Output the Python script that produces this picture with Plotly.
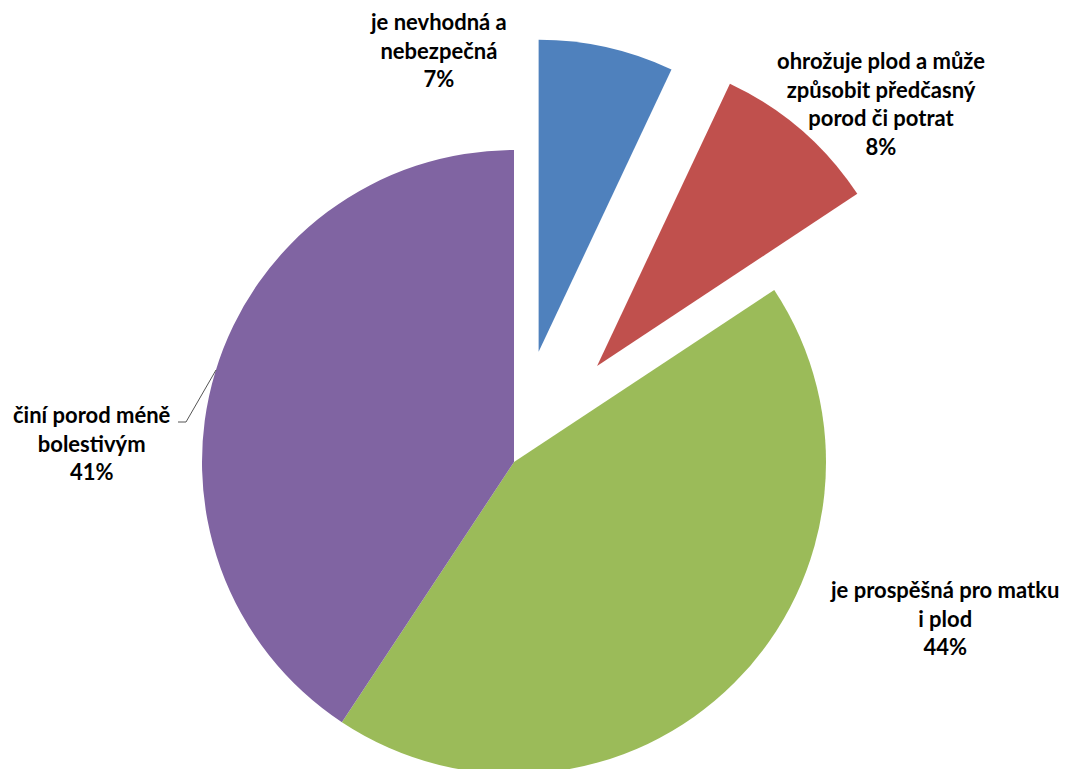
import math
import plotly.graph_objects as go

# ---- data ----
labels = [
    "je nevhodná a<br>nebezpečná",
    "ohrožuje plod a může<br>způsobit předčasný<br>porod či potrat",
    "je prospěšná pro matku<br>i plod",
    "činí porod méně<br>bolestivým",
]
values = [7.0, 8.7, 43.6, 40.7]
pct_labels = ["7%", "8%", "44%", "41%"]
pulls = [0.362, 0.407, 0.0, 0.0]
colors = ["#4F81BD", "#C0504D", "#9BBB59", "#8064A2"]

# ---- geometry / style ----
W, H = 1073, 769
OFF = 8  # page body margin
R = 312
CX, CY = 514 - OFF, 462 - OFF
label_pos = [(438 - OFF, 50 - OFF), (881 - OFF, 104 - OFF),
             (944 - OFF, 618 - OFF), (92 - OFF, 443 - OFF)]
FONT = dict(family="Lato", size=22, color="#000000", weight="bold")
TRANSPARENT = "rgba(0,0,0,0)"

total = sum(values)


def clamp(v):
    return min(1.0, max(0.0, v))


def domain_for(dx, dy):
    cxp = (CX + dx) / W
    cyp = 1 - (CY + dy) / H
    hx = 0.3
    hy = R / H
    return dict(x=[clamp(cxp - hx), clamp(cxp + hx)],
                y=[clamp(cyp - hy), clamp(cyp + hy)])


fig = go.Figure()

plain = [l.replace("<br>", " ") for l in labels]

# base pie with non-pulled slices
base_colors = [c if p == 0 else TRANSPARENT for c, p in zip(colors, pulls)]
fig.add_trace(go.Pie(
    labels=plain, values=values,
    sort=False, direction="clockwise", rotation=0,
    marker=dict(colors=base_colors, line=dict(width=0)),
    textinfo="none", hoverinfo="label+percent",
    domain=domain_for(0, 0), showlegend=False,
))

# exploded slices as separate pies shifted along their bisectors
cum = 0.0
for i, (v, p) in enumerate(zip(values, pulls)):
    start = cum
    cum += v
    if p == 0:
        continue
    mid = (start + v / 2) / total * 2 * math.pi
    dist = p * R
    dx = dist * math.sin(mid)
    dy = -dist * math.cos(mid)
    cols = [colors[j] if j == i else TRANSPARENT for j in range(len(values))]
    fig.add_trace(go.Pie(
        labels=plain, values=values,
        sort=False, direction="clockwise", rotation=0,
        marker=dict(colors=cols, line=dict(width=0)),
        textinfo="none", hoverinfo="skip",
        domain=domain_for(dx, dy), showlegend=False,
    ))

for (px, py), lab, pct in zip(label_pos, labels, pct_labels):
    fig.add_annotation(
        x=px / W, y=1 - py / H, xref="paper", yref="paper",
        text=f"{lab}<br>{pct}", showarrow=False,
        xanchor="center", yanchor="middle", align="center", font=FONT,
    )

# leader line for the purple label
x0, y0 = 178 - OFF, 422 - OFF
x1, y1 = 186 - OFF, 422 - OFF
x2, y2 = 216 - OFF, 370 - OFF
fig.add_shape(
    type="path", xref="paper", yref="paper",
    path=f"M {x0/W},{1-y0/H} L {x1/W},{1-y1/H} L {x2/W},{1-y2/H}",
    line=dict(color="#555555", width=1),
)

fig.update_layout(
    width=W, height=H,
    margin=dict(l=0, r=0, t=0, b=0),
    paper_bgcolor="white", plot_bgcolor="white",
    showlegend=False,
)

fig.write_html("out.html")
